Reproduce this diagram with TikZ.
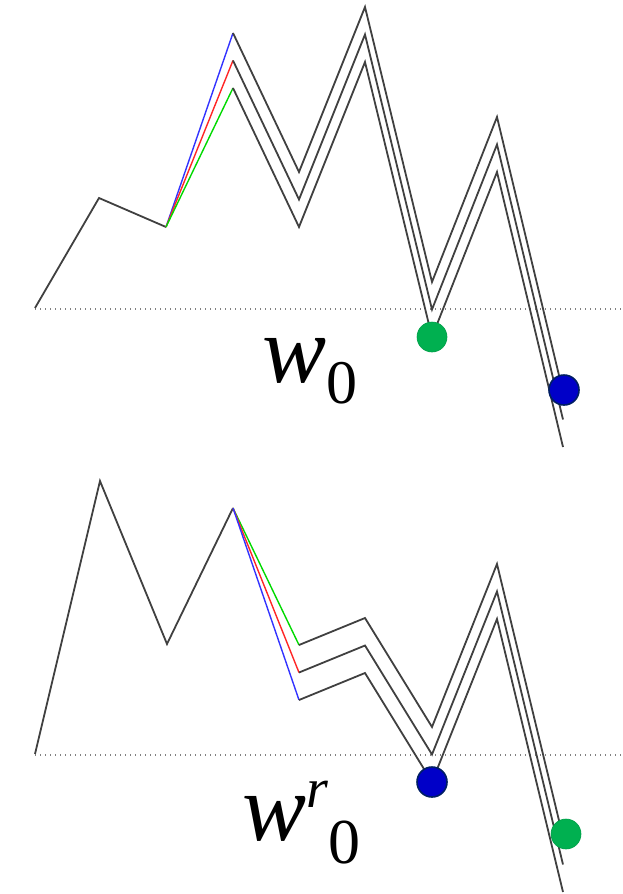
\documentclass[tikz,border=0pt]{standalone}
\usepackage{fontspec}
\setmainfont{Liberation Serif}
\usetikzlibrary{positioning}
\definecolor{dotgreen}{RGB}{0,176,80}
\definecolor{dotblue}{RGB}{0,0,200}
\definecolor{dotrim}{RGB}{0,30,100}

\begin{document}
\begin{tikzpicture}[x=1pt, y=-1pt,
    walk/.style={draw=black!75, line width=1.8pt},
    level/.style={draw=black!50, line width=2pt, dash pattern=on 1.4pt off 3.6pt},
    gdot/.style={circle, fill=dotgreen, draw=dotgreen!90!black, line width=0.6pt, minimum size=30pt, inner sep=0pt},
    bdot/.style={circle, fill=dotblue, draw=dotrim, line width=1.6pt, minimum size=30pt, inner sep=0pt}]
    \useasboundingbox (0,0) rectangle (623,894);

    % upper walk w_0
    \coordinate (t0) at (35,308);
    \coordinate (t1) at (99,198);
    \coordinate (t2) at (166,227);
    \draw[level] (35,309) coordinate (tl) -- (623,309) coordinate (tr);
    \draw[walk] (t0) -- (t1) -- (t2);
    \foreach \c/\s [count=\k] in {blue!80/0, red!85/27.5, green!85!black/55} {
        \path (233,33+\s) coordinate (ta\k) (299,172+\s) coordinate (tb\k)
              (365,7+\s) coordinate (tc\k) (432,282+\s) coordinate (td\k)
              (497,117+\s) coordinate (te\k) (563,392+\s) coordinate (tf\k);
        \draw[\c, line width=1.4pt] (t2) -- (ta\k);
        \draw[walk] (ta\k) -- (tb\k) -- (tc\k) -- (td\k) -- (te\k) -- (tf\k);
    }
    \node[gdot] (tg) at (td3) {};
    \node[bdot] (tb) at (564,390) {};
    \node[anchor=base west, inner sep=0pt] (wtop) at (262,382)
        {\fontsize{96}{96}\selectfont\itshape w\upshape\raisebox{-21pt}{\fontsize{62}{62}\selectfont 0}};

    % lower walk w^r_0
    \coordinate (b0) at (35,754);
    \coordinate (b1) at (100,481);
    \coordinate (b2) at (167,644);
    \coordinate (b3) at (233,508);
    \draw[level] (35,755) coordinate (bl) -- (623,755) coordinate (br);
    \draw[walk] (b0) -- (b1) -- (b2) -- (b3);
    \foreach \c/\s [count=\k] in {green!85!black/0, red!85/27.5, blue!80/55} {
        \path (299,645+\s) coordinate (ba\k) (365,618+\s) coordinate (bb\k)
              (432,727+\s) coordinate (bc\k) (497,564+\s) coordinate (bd\k)
              (563,837+\s) coordinate (be\k);
        \draw[\c, line width=1.4pt] (b3) -- (ba\k);
        \draw[walk] (ba\k) -- (bb\k) -- (bc\k) -- (bd\k) -- (be\k);
    }
    \node[bdot] (bb) at (bc3) {};
    \node[gdot] (bg) at (566,834) {};
    \node[anchor=base west, inner sep=0pt] (wbot) at (242,840)
        {\fontsize{96}{96}\selectfont\itshape w\raisebox{33pt}{\fontsize{56}{56}\selectfont r}\upshape\raisebox{-23pt}{\fontsize{64}{64}\selectfont 0}};
\end{tikzpicture}
\end{document}
